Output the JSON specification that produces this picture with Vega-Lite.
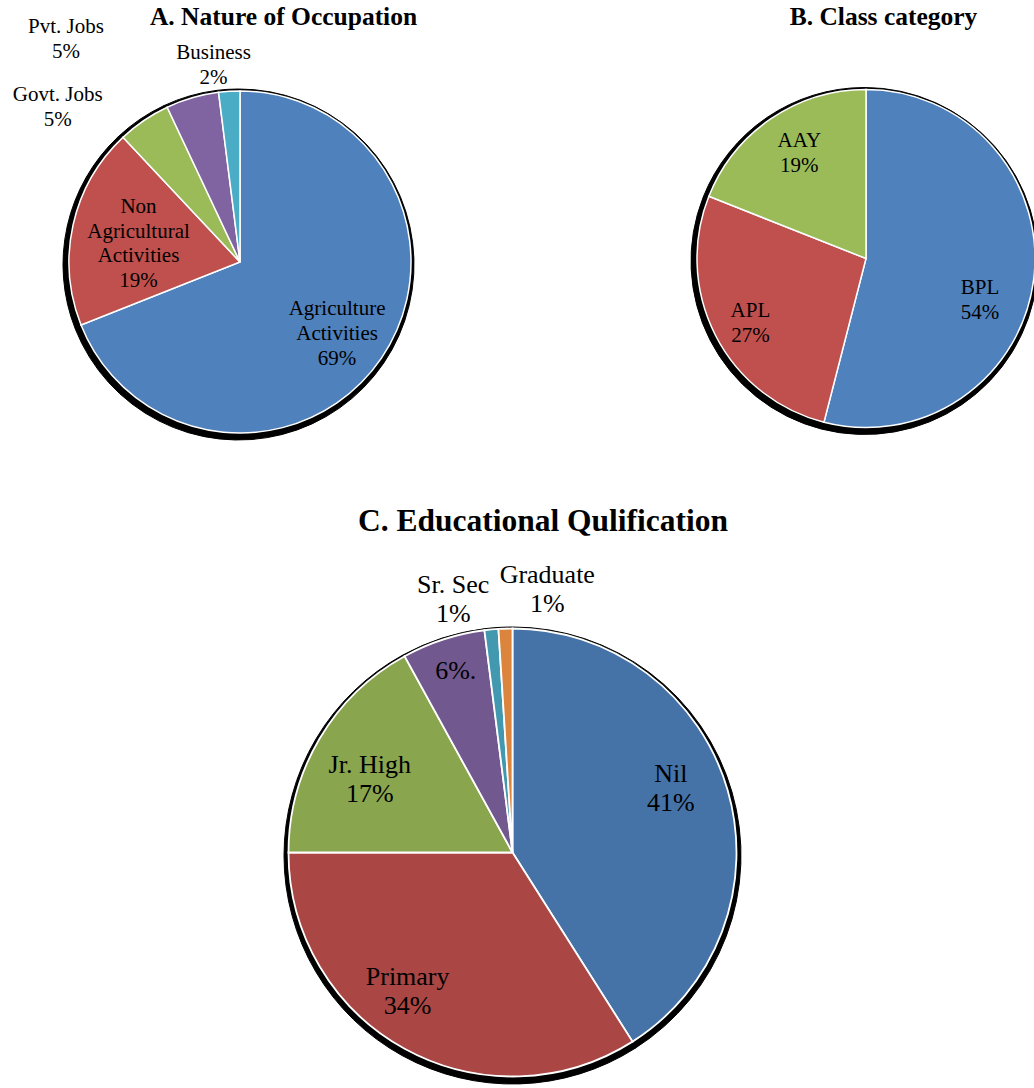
{
  "$schema": "https://vega.github.io/schema/vega-lite/v6.json",
  "padding": 0,
  "background": "white",
  "spacing": 0,
  "resolve": {"scale": {"color": "independent", "theta": "independent"}},
  "config": {
    "view": {"stroke": null},
    "font": "Liberation Serif",
    "title": {"font": "Liberation Serif", "fontWeight": "bold", "color": "black", "anchor": "middle", "frame": "group", "baseline": "alphabetic"},
    "text": {"font": "Liberation Serif", "color": "black", "align": "center", "baseline": "middle"}
  },
  "vconcat": [
    {
      "spacing": 200,
      "resolve": {"scale": {"color": "independent", "theta": "independent"}},
      "hconcat": [
        {
          "width": 480,
          "height": 504,
          "title": {"text": "A. Nature of Occupation", "fontSize": 25.5, "offset": -30.7, "dx": 43.5},
          "data": {"values": [
            {"cat": "Agriculture Activities", "pct": 69},
            {"cat": "Non Agricultural Activities", "pct": 19},
            {"cat": "Govt. Jobs", "pct": 5},
            {"cat": "Pvt. Jobs", "pct": 5},
            {"cat": "Business", "pct": 2}
          ]},
          "transform": [
            {"window": [{"op": "row_number", "as": "k"}]},
            {"calculate": "split((datum.cat === 'Govt. Jobs' || datum.cat === 'Pvt. Jobs' ? datum.cat : replace(datum.cat, regexp(' ', 'g'), '|')) + '|' + datum.pct + '%', '|')", "as": "lines"}
          ],
          "encoding": {
            "theta": {"field": "pct", "type": "quantitative", "stack": true},
            "order": {"field": "k", "type": "quantitative"}
          },
          "layer": [
            {
              "mark": {"type": "arc", "radius": 175.5, "xOffset": -1.5, "yOffset": 12.5, "color": "black", "stroke": "black", "strokeWidth": 1},
              "encoding": {"detail": {"field": "cat", "type": "nominal"}}
            },
            {
              "mark": {"type": "arc", "radius": 171, "yOffset": 10, "stroke": "white", "strokeWidth": 1.5},
              "encoding": {
                "color": {"field": "cat", "type": "nominal", "legend": null,
                  "scale": {"domain": ["Agriculture Activities", "Non Agricultural Activities", "Govt. Jobs", "Pvt. Jobs", "Business"],
                            "range": ["#4F81BD", "#C0504D", "#9BBB59", "#8064A2", "#4BACC6"]}}
              }
            },
            {
              "mark": {"type": "text", "fontSize": 21, "lineHeight": 24.6, "yOffset": 10,
                "radius": {"expr": "[121, 105, 230, 262, 198][datum.k - 1]"},
                "dx": {"expr": "[-3, 1, -53, -101, -14][datum.k - 1]"},
                "dy": {"expr": "[-20.6, -31.9, 23.7, 16.7, -11.3][datum.k - 1]"}},
              "encoding": {
                "detail": {"field": "cat", "type": "nominal"},
                "text": {"field": "lines", "type": "nominal"}
              }
            }
          ]
        },
        {
          "width": 354,
          "height": 504,
          "title": {"text": "B. Class category", "fontSize": 25.5, "offset": -30, "dx": 26.5},
          "data": {"values": [
            {"cat": "BPL", "pct": 54},
            {"cat": "APL", "pct": 27},
            {"cat": "AAY", "pct": 19}
          ]},
          "transform": [
            {"window": [{"op": "row_number", "as": "k"}]},
            {"calculate": "[datum.cat, datum.pct + '%']", "as": "lines"}
          ],
          "encoding": {
            "theta": {"field": "pct", "type": "quantitative", "stack": true},
            "order": {"field": "k", "type": "quantitative"}
          },
          "layer": [
            {
              "mark": {"type": "arc", "radius": 173.5, "xOffset": 7.5, "yOffset": 9, "clip": true, "color": "black", "stroke": "black", "strokeWidth": 1},
              "encoding": {"detail": {"field": "cat", "type": "nominal"}}
            },
            {
              "mark": {"type": "arc", "radius": 169, "xOffset": 9, "yOffset": 6.5, "clip": true, "stroke": "white", "strokeWidth": 1.5},
              "encoding": {
                "color": {"field": "cat", "type": "nominal", "legend": null,
                  "scale": {"domain": ["BPL", "APL", "AAY"], "range": ["#4F81BD", "#C0504D", "#9BBB59"]}}
              }
            },
            {
              "mark": {"type": "text", "fontSize": 21, "lineHeight": 25, "xOffset": 9, "yOffset": 6.5,
                "radius": {"expr": "[118, 132, 124][datum.k - 1]"},
                "dx": {"expr": "[-3, 2, 3][datum.k - 1]"},
                "dy": {"expr": "[14.5, -7.5, -14.5][datum.k - 1]"}},
              "encoding": {
                "detail": {"field": "cat", "type": "nominal"},
                "text": {"field": "lines", "type": "nominal"}
              }
            }
          ]
        }
      ]
    },
    {
      "width": 1025,
      "height": 584,
      "title": {"text": "C. Educational Qulification", "fontSize": 31.5, "offset": -33, "dx": 30.5},
      "data": {"values": [
        {"cat": "Nil", "pct": 41},
        {"cat": "Primary", "pct": 34},
        {"cat": "Jr. High", "pct": 17},
        {"cat": "High School", "pct": 6},
        {"cat": "Sr. Sec", "pct": 1},
        {"cat": "Graduate", "pct": 1}
      ]},
      "transform": [
        {"window": [{"op": "row_number", "as": "k"}]},
        {"calculate": "datum.cat === 'High School' ? [datum.pct + '%.'] : [datum.cat, datum.pct + '%']", "as": "lines"}
      ],
      "encoding": {
        "theta": {"field": "pct", "type": "quantitative", "stack": true},
        "order": {"field": "k", "type": "quantitative"}
      },
      "layer": [
        {
          "mark": {"type": "arc", "radius": 228.5, "yOffset": 59.5, "color": "black", "stroke": "black", "strokeWidth": 1},
          "encoding": {"detail": {"field": "cat", "type": "nominal"}}
        },
        {
          "mark": {"type": "arc", "radius": 224, "yOffset": 56.5, "stroke": "white", "strokeWidth": 1.8},
          "encoding": {
            "color": {"field": "cat", "type": "nominal", "legend": null,
              "scale": {"domain": ["Nil", "Primary", "Jr. High", "High School", "Sr. Sec", "Graduate"],
                        "range": ["#4572A7", "#AA4643", "#89A54E", "#71588F", "#4198AF", "#DB843D"]}}
          }
        },
        {
          "mark": {"type": "text", "fontSize": 26, "lineHeight": 29, "yOffset": 56.5,
            "radius": {"expr": "[170, 172, 160, 190, 258, 262][datum.k - 1]"},
            "dx": {"expr": "[-5, -22, -5, 2, -35, 43][datum.k - 1]"},
            "dy": {"expr": "[-31.5, -26.5, -6.5, -1, -10.5, -15.5][datum.k - 1]"}},
          "encoding": {
            "detail": {"field": "cat", "type": "nominal"},
            "text": {"field": "lines", "type": "nominal"}
          }
        }
      ]
    }
  ]
}
